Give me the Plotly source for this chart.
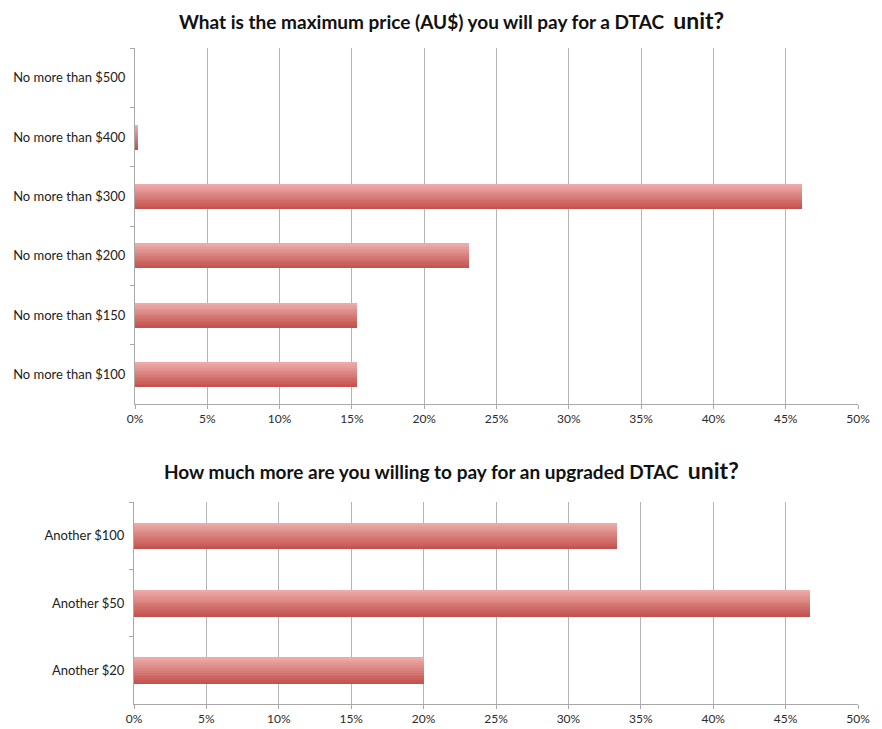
#all module will be imported here
import plotly.graph_objects as go
from plotly.subplots import make_subplots

# data of the two survey questions (bottom to top)
price_labels = ["No more than $100", "No more than $150", "No more than $200",
                "No more than $300", "No more than $400", "No more than $500"]
price_share = [15.38, 15.38, 23.08, 46.15, 0.2, 0]

upgrade_labels = ["Another $20", "Another $50", "Another $100"]
upgrade_share = [20.0, 46.67, 33.33]

x_ticks = [0, 5, 10, 15, 20, 25, 30, 35, 40, 45, 50]
x_tick_text = [f"{t}%" for t in x_ticks]

fig = make_subplots(rows=2, cols=1)

# gradient bars made of thin stripes (dark at bottom, light at top)
dark = (196, 82, 78)
light = (236, 170, 168)
n_strips = 14


def add_gradient_bars(labels, values, width, row):
    for i in range(n_strips):
        t = i / (n_strips - 1)
        c = tuple(int(dark[k] + (light[k] - dark[k]) * t) for k in range(3))
        fig.add_trace(go.Bar(
            x=values, y=labels, orientation="h",
            width=width / n_strips * 1.02,
            offset=-width / 2 + i * width / n_strips,
            marker=dict(color=f"rgb{c}", line=dict(width=0)),
            showlegend=False, hoverinfo="skip" if i else "x+y"),
            row=row, col=1)


add_gradient_bars(price_labels, price_share, 0.41, 1)
add_gradient_bars(upgrade_labels, upgrade_share, 0.39, 2)

x_font = dict(family="Lato, Open Sans, sans-serif", size=12, color="#2b2b2b")
y_font = dict(family="Lato, Open Sans, sans-serif", size=13, color="#222222")

fig.update_xaxes(range=[0, 50], tickvals=x_ticks, ticktext=x_tick_text,
                 showgrid=True, gridcolor="#b4b4b4", gridwidth=1,
                 showline=True, linecolor="#a8a8a8", linewidth=1,
                 ticks="outside", ticklen=4, tickcolor="#a8a8a8",
                 zeroline=False, tickfont=x_font, fixedrange=True,
                 automargin=False)
fig.update_yaxes(showgrid=False, showline=True, linecolor="#a8a8a8", linewidth=1,
                 ticks="outside", ticklen=4, tickcolor="#a8a8a8",
                 tickson="boundaries", ticklabelstandoff=6,
                 tickfont=y_font, fixedrange=True, automargin=False)

fig.update_layout(
    width=882, height=729,
    margin=dict(l=0, r=0, t=0, b=0),
    plot_bgcolor="white", paper_bgcolor="white",
    barmode="overlay", bargap=0,
    xaxis=dict(domain=[135 / 882, 858 / 882], anchor="y"),
    yaxis=dict(domain=[1 - 404 / 729, 1 - 48 / 729], anchor="x"),
    xaxis2=dict(domain=[134 / 882, 858 / 882], anchor="y2"),
    yaxis2=dict(domain=[1 - 704 / 729, 1 - 502 / 729], anchor="x2"),
)

# titles with the bigger "unit?" like the original
title_font = dict(family="Lato, Open Sans, sans-serif", size=19, color="#111111")
fig.add_annotation(text="<b>What is the maximum price (AU$) you will pay for a DTAC  <span style='font-size:23px'>unit?</span></b>",
                   x=451 / 882, y=1 - 20 / 729, xref="paper", yref="paper",
                   showarrow=False, font=title_font, yanchor="middle")
fig.add_annotation(text="<b>How much more are you willing to pay for an upgraded DTAC  <span style='font-size:23px'>unit?</span></b>",
                   x=451 / 882, y=1 - 470 / 729, xref="paper", yref="paper",
                   showarrow=False, font=title_font, yanchor="middle")

# page body has a default margin, drop it so the figure fills the window
fig.write_html("out.html", config={"displayModeBar": False},
               post_script="document.body.style.margin='0';")
